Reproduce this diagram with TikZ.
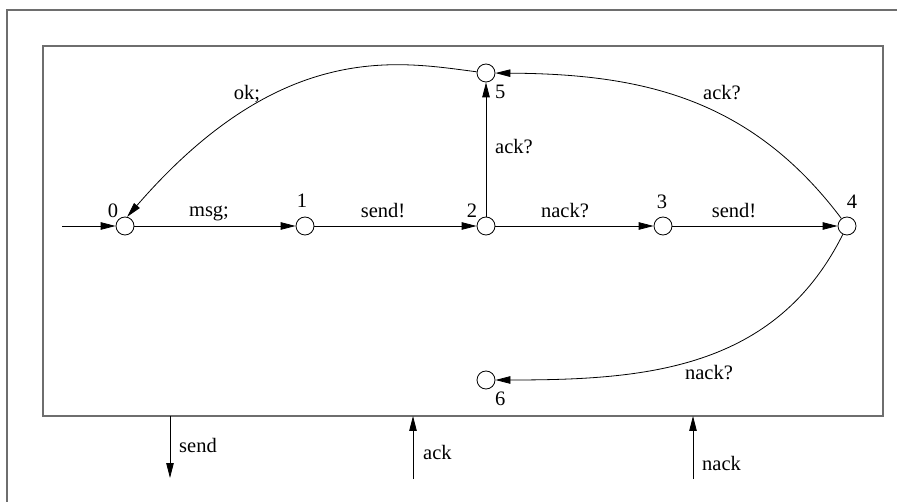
\documentclass[tikz,border=0pt]{standalone}
\usepackage{fontspec}
\setmainfont{Liberation Serif}
\usetikzlibrary{arrows.meta}
\definecolor{framegray}{RGB}{110,110,110}
\tikzset{
  st/.style={circle,draw,line width=0.8pt,minimum size=18pt,inner sep=0pt},
  lbl/.style={inner sep=0pt,font=\fontsize{20.5}{24}\selectfont,anchor=base},
  lblw/.style={lbl,anchor=base west},
  edge/.style={line width=0.8pt,-{Triangle[length=15pt,width=7.5pt]}},
  frame/.style={draw=framegray,line width=1.6pt}
}
\begin{document}
\begin{tikzpicture}[x=1pt,y=-1pt]
\useasboundingbox (0,0) rectangle (897,502);
% outer frame (only top and left visible)
\draw[frame] (7,502) -- (7,10) -- (897,10);
% inner box
\node[frame,rectangle,minimum width=840pt,minimum height=370pt,inner sep=0pt] (box) at (463,231) {};
% states
\node[st] (n0) at (125,226) {};
\node[st] (n1) at (305,226) {};
\node[st] (n2) at (486,226) {};
\node[st] (n3) at (663,226) {};
\node[st] (n4) at (847,226) {};
\node[st] (n5) at (486,73) {};
\node[st] (n6) at (486,380) {};
% state numbers
\node[lbl] (t0) at (113,218) {0};
\node[lbl] (t1) at (302,208) {1};
\node[lbl] (t2) at (472,218) {2};
\node[lbl] (t3) at (662,209) {3};
\node[lbl] (t4) at (852,209) {4};
\node[lblw] (t5) at (495,99) {5};
\node[lblw] (t6) at (495,406) {6};
% initial
\coordinate (init) at (62,226);
\draw[edge] (init) -- (n0);
% transitions
\draw[edge] (n0) -- (n1);
\draw[edge] (n1) -- (n2);
\draw[edge] (n2) -- (n3);
\draw[edge] (n3) -- (n4);
\draw[edge] (n2) -- (n5);
\draw[edge] (n5) .. controls (400,62) and (282,38) .. (n0.77);
\draw[edge] (n4) .. controls (750,97) and (640,74) .. (n5);
\draw[edge] (n4) .. controls (775,370) and (645,380) .. (n6);
% transition labels
\node[lbl] (lmsg) at (209,217) {msg;};
\node[lbl] (lsend1) at (383,218) {send!};
\node[lbl] (lnack1) at (565,218) {nack?};
\node[lbl] (lsend2) at (734,218) {send!};
\node[lbl] (lok) at (247,100) {ok;};
\node[lbl] (lack1) at (722,100) {ack?};
\node[lblw] (lack2) at (495,154) {ack?};
\node[lbl] (lnack2) at (709,380) {nack?};
% channels
\coordinate (sendtop) at (170,416);
\coordinate (sendend) at (170,478);
\coordinate (ackbot) at (413,479);
\coordinate (acktop) at (413,416);
\coordinate (nackbot) at (693,479);
\coordinate (nacktop) at (693,416);
\draw[edge] (sendtop) -- (sendend);
\draw[edge] (ackbot) -- (acktop);
\draw[edge] (nackbot) -- (nacktop);
\node[lblw] (csend) at (179,452) {send};
\node[lblw] (cack) at (423,460) {ack};
\node[lblw] (cnack) at (702,470) {nack};
\end{tikzpicture}
\end{document}
